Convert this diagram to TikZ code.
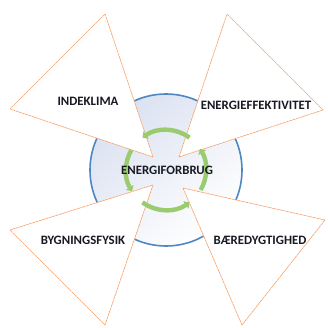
\documentclass[tikz,border=0pt]{standalone}
\usepackage{fontspec}
\setmainfont{Carlito}
\usetikzlibrary{arrows.meta}
\definecolor{tri}{RGB}{247,160,105}
\definecolor{ring}{RGB}{79,134,196}
\definecolor{ringfill}{RGB}{218,225,241}
\definecolor{cyc}{RGB}{155,203,111}
\definecolor{txt}{RGB}{25,25,35}
\tikzset{
  triangle/.style={draw=tri, line width=0.6pt, dash pattern=on 3pt off 0.5pt, fill=white},
  label/.style={font=\fontsize{12.8}{14}\selectfont\bfseries, text=txt, inner sep=0pt},
  cycarrow/.style={draw=cyc, line width=4.4pt, -{Triangle[width=9pt,length=4.5pt]}}
}
\begin{document}
\begin{tikzpicture}[x=1pt,y=1pt]
\useasboundingbox (0,0) rectangle (328,327);
\coordinate (c) at (166,157);
% ring
\shade[top color=ringfill, bottom color=white, shading angle=40] (c) circle[radius=76];
\draw[ring, line width=1.6pt] (c) circle[radius=76];
% triangles
\coordinate (tl1) at (105,313); \coordinate (tl2) at (10,218); \coordinate (tl3) at (153,170);
\coordinate (tr1) at (227,313); \coordinate (tr2) at (323,217); \coordinate (tr3) at (179,170);
\coordinate (bl1) at (10,97);  \coordinate (bl2) at (105,2);  \coordinate (bl3) at (153,142);
\coordinate (br1) at (325,107); \coordinate (br2) at (242,2); \coordinate (br3) at (183,139);
\draw[triangle] (tl1) -- (tl2) -- (tl3) -- cycle;
\draw[triangle] (tr1) -- (tr2) -- (tr3) -- cycle;
\draw[triangle] (bl1) -- (bl2) -- (bl3) -- cycle;
\draw[triangle] (br1) -- (br2) -- (br3) -- cycle;
% cycle arrows
\draw[cycarrow] ([shift={(54:40)}]c) arc[start angle=54, end angle=126, radius=40];
\draw[cycarrow] ([shift={(150:40)}]c) arc[start angle=150, end angle=212, radius=40];
\draw[cycarrow] ([shift={(234:40)}]c) arc[start angle=234, end angle=306, radius=40];
\draw[cycarrow] ([shift={(330:40)}]c) arc[start angle=330, end angle=392, radius=40];
% labels
\node[label] (ind) at (88,226) {INDEKLIMA};
\node[label] (eff) at (256,222) {ENERGIEFFEKTIVITET};
\node[label] (for) at (167,157) {ENERGIFORBRUG};
\node[label] (byg) at (83,87) {BYGNINGSFYSIK};
\node[label] (bae) at (260,87) {BÆREDYGTIGHED};
\end{tikzpicture}
\end{document}
